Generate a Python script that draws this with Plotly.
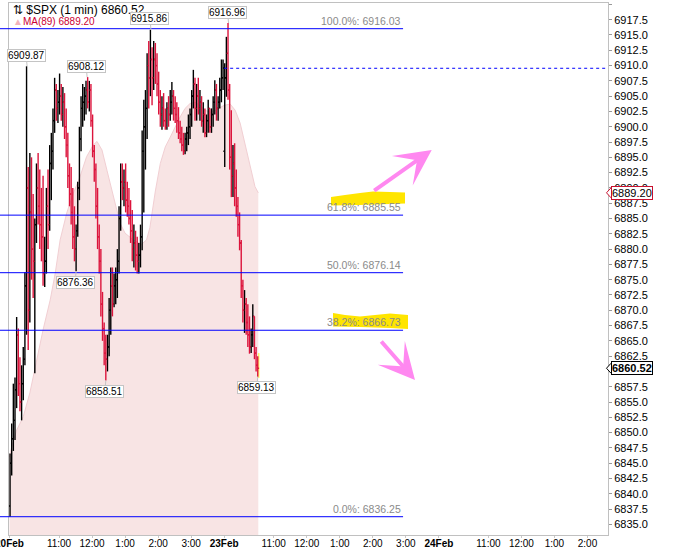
"""$SPX 1-min chart with Fibonacci retracement levels"""
import plotly.graph_objects as go

# ---- data ------------------------------------------------------------------
# minutes are counted on a session-only clock: 20Feb 9:30 = 0, 23Feb 9:30 = 390,
# 24Feb 9:30 = 780 (each session is 390 minutes long)
BAR_MINUTES = 3

FEB20_OPEN = 6838.0
FEB20_CLOSE = [
  6845, 6849, 6852, 6857, 6866, 6858, 6855, 6858, 6862, 6874,
  6890, 6870, 6886, 6880, 6878, 6884, 6890, 6887, 6884, 6882,
  6876, 6878, 6887, 6884, 6894, 6896, 6901, 6906, 6903, 6904,
  6905, 6902, 6904, 6900, 6897, 6892, 6889, 6886, 6882, 6880,
  6883, 6890, 6898, 6903, 6904, 6905, 6906, 6904, 6906, 6901,
  6896, 6893, 6887, 6882, 6878, 6871, 6867, 6863, 6862, 6864,
  6870, 6874, 6871, 6874, 6875, 6878, 6885, 6891, 6890, 6891,
  6888, 6887, 6885, 6883, 6880, 6881, 6879, 6878, 6879, 6882,
  6896, 6900, 6903, 6910, 6908, 6911, 6908, 6911, 6910, 6907,
  6904, 6902, 6903, 6901, 6900, 6903, 6902, 6904, 6905, 6903,
  6902, 6901, 6899, 6898, 6897, 6896, 6898, 6899, 6900, 6902,
  6905, 6907, 6903, 6905, 6903, 6904, 6901, 6902, 6899, 6901,
  6903, 6900, 6902, 6904, 6906, 6903, 6904, 6906, 6908, 6909.6,
]
FEB20_HIGH = [
  6846.6, 6851.5, 6858, 6859, 6868.9, 6867, 6862.3, 6861, 6864, 6876.2,
  6909.87, 6893.4, 6895.7, 6895, 6889, 6885, 6894, 6895.7, 6893, 6890,
  6892, 6882, 6890, 6893, 6897, 6899, 6903, 6908, 6907, 6906,
  6908.7, 6907, 6906.5, 6905.5, 6903, 6899, 6894, 6893.4, 6890, 6887,
  6884, 6891, 6900, 6905, 6907, 6906.5, 6907.5, 6908.12, 6907.5, 6907,
  6902, 6897, 6894, 6890, 6884, 6880, 6873, 6868, 6866, 6866,
  6872, 6877, 6877, 6876, 6877, 6880, 6887, 6894, 6894, 6893,
  6894, 6891, 6890, 6888, 6886.4, 6884, 6883, 6882, 6881, 6884,
  6899.4, 6904.4, 6906, 6912, 6914, 6915.86, 6913, 6914, 6913.7, 6912,
  6909, 6906, 6905, 6905.5, 6903, 6904, 6905, 6906, 6907.3, 6906,
  6905, 6904, 6903.2, 6901, 6900, 6899, 6899, 6900, 6902, 6903,
  6906, 6909.3, 6908, 6907, 6908, 6906, 6905, 6904, 6903, 6902,
  6904.4, 6903, 6903, 6905, 6907.6, 6907, 6905, 6908, 6911, 6911,
]
FEB20_LOW = [
  6836.25, 6843, 6847, 6848.8, 6854, 6856, 6853.5, 6852, 6855.3, 6861,
  6866, 6863.5, 6868, 6875, 6872, 6859.7, 6881, 6884, 6880, 6878,
  6874, 6873.8, 6876, 6880, 6883, 6888, 6893, 6899, 6901, 6900.6,
  6902, 6901, 6900, 6898, 6895, 6890, 6887, 6884, 6880, 6878,
  6876.36, 6882, 6888, 6896, 6900, 6901, 6902, 6903, 6902.5, 6900,
  6895, 6891, 6885, 6880, 6876, 6869, 6865, 6861, 6858.51, 6860,
  6862.5, 6866, 6869, 6870.5, 6871, 6872, 6876, 6883, 6888, 6887,
  6886, 6885.3, 6884, 6881, 6878, 6877, 6876.5, 6876, 6876, 6877,
  6879.8, 6886, 6893, 6898, 6903, 6905, 6903.5, 6906, 6907, 6905,
  6902, 6900, 6899.5, 6900, 6899.5, 6899.5, 6900, 6901, 6902, 6901,
  6900.6, 6899, 6898, 6897.3, 6896, 6895.4, 6895.5, 6896, 6897, 6898,
  6900, 6903, 6901, 6901, 6902, 6901, 6900, 6899, 6898.3, 6898.3,
  6899, 6899, 6899, 6900, 6902, 6901, 6901, 6903, 6904, 6906,
]

FEB23_OPEN = 6896.0
FEB23_CLOSE = [
  6908, 6912, 6906, 6895, 6892, 6894, 6890, 6887, 6884, 6881,
  6874, 6870, 6871, 6868, 6866, 6864, 6866, 6869, 6863, 6861, 6860.52,
]
FEB23_HIGH = [
  6910.4, 6914.7, 6916.96, 6907, 6902.7, 6897, 6897.3, 6893, 6888.5, 6886,
  6881.5, 6875, 6873.3, 6872, 6871, 6869, 6867, 6871, 6869, 6864, 6862.5,
]
FEB23_LOW = [
  6893.4, 6904.9, 6904.4, 6893, 6888.5, 6888.5, 6887, 6885.3, 6882, 6879.8,
  6872, 6868, 6866.3, 6866, 6864, 6862.9, 6863, 6864, 6862, 6860, 6859.13,
]

# MA(89) shaded area
MA_MINUTE = [
  0, 4, 13, 25, 37, 49, 61, 74, 83, 92, 104, 116, 128, 140, 152, 159, 168,
  177, 186, 195, 201, 210, 225, 240, 249, 255, 265, 274, 283, 292, 301, 310,
  319, 328, 337, 346, 355, 365, 374, 383, 390, 401, 410, 419, 428, 437, 446, 452,
]
MA_VALUE = [
  6846.0, 6847.7, 6850.4, 6852.6, 6856.5, 6861.8, 6866.8, 6871.7, 6876.0,
  6881.5, 6885.9, 6889.1, 6891.8, 6895.1, 6897.0, 6897.6, 6896.2, 6892.9,
  6889.6, 6886.4, 6884.2, 6882.6, 6881.5, 6880.8, 6881.5, 6883.5, 6889.5,
  6894.0, 6896.7, 6898.3, 6900.0, 6901.6, 6903.0, 6903.8, 6904.0, 6903.5,
  6902.7, 6902.4, 6902.7, 6903.2, 6903.5, 6903.7, 6902.7, 6900.6, 6897.3,
  6894.0, 6890.2, 6889.2,
]

FIB_PCT = [100.0, 61.8, 50.0, 38.2, 0.0]
FIB_LEVEL = [6916.03, 6885.55, 6876.14, 6866.73, 6836.25]
PREV_CLOSE = 6909.56
LAST_PRICE = 6860.52
LAST_MA = 6889.20

# marked highs / lows (minute, price, above?)
PIVOT_MINUTE = [32, 141, 257, 398, 121, 175, 451]
PIVOT_PRICE = [6909.87, 6908.12, 6915.86, 6916.96, 6876.36, 6858.51, 6859.13]
PIVOT_ABOVE = [True, True, True, True, False, False, False]

TICK_MINUTE = [0, 90, 150, 210, 270, 330, 390, 480, 540, 600, 660, 720,
               780, 870, 930, 990, 1050]
TICK_TEXT = ["20Feb", "11:00", "12:00", "1:00", "2:00", "3:00",
             "23Feb", "11:00", "12:00", "1:00", "2:00", "3:00",
             "24Feb", "11:00", "12:00", "1:00", "2:00"]

# ---- layout constants -------------------------------------------------------
W, H = 674, 549
M_L, M_R, M_T, M_B = 9, 66, 3, 14
PLOT_W = W - M_L - M_R
PLOT_H = H - M_T - M_B
X_RANGE = [-0.9, 1087.3]
Y_RANGE = [6833.26, 6920.23]
FIB_END_MINUTE = 715

UP_COLOR = "black"
DOWN_COLOR = "#dc143c"
FIB_COLOR = "blue"
MA_FILL = "#f8e4e4"
MA_EDGE = "#f1cfd3"
HILITE = "#ffe500"
ARROW_COLOR = "#ff88f0"
FONT = "Liberation Sans"


def px_to_minute(px):
  return X_RANGE[0] + (px - M_L) / PLOT_W * (X_RANGE[1] - X_RANGE[0])


def px_to_price(py):
  return Y_RANGE[1] - (py - M_T) / PLOT_H * (Y_RANGE[1] - Y_RANGE[0])


def minute_to_paper(m):
  return (m - X_RANGE[0]) / (X_RANGE[1] - X_RANGE[0])


def build_bars(day_start, first_open, closes, highs, lows):
  bars = []
  prev = first_open
  for i, (c, h, l) in enumerate(zip(closes, highs, lows)):
    x = day_start + BAR_MINUTES * i + 1
    bars.append(dict(x=x, o=prev, h=h, l=l, c=c))
    prev = c
  return bars


def bar_segments(bars, up):
  xs, ys = [], []
  tw = 2.5
  for b in bars:
    if (b["c"] >= b["o"]) != up:
      continue
    xs += [b["x"], b["x"], None, b["x"] - tw, b["x"], None, b["x"], b["x"] + tw, None]
    ys += [b["l"], b["h"], None, b["o"], b["o"], None, b["c"], b["c"], None]
  return xs, ys


def path_from_px(points):
  pts = [f"{px_to_minute(x):.2f},{px_to_price(y):.3f}" for x, y in points]
  return "M " + " L ".join(pts) + " Z"


def main():
  bars = build_bars(0, FEB20_OPEN, FEB20_CLOSE, FEB20_HIGH, FEB20_LOW)
  bars += build_bars(390, FEB23_OPEN, FEB23_CLOSE, FEB23_HIGH, FEB23_LOW)

  fig = go.Figure()
  fig.add_trace(go.Scatter(
    x=MA_MINUTE, y=MA_VALUE, mode="lines", fill="tozeroy",
    fillcolor=MA_FILL, line=dict(color=MA_EDGE, width=1), hoverinfo="skip",
  ))
  for up, color in ((True, UP_COLOR), (False, DOWN_COLOR)):
    xs, ys = bar_segments(bars, up)
    fig.add_trace(go.Scatter(
      x=xs, y=ys, mode="lines", line=dict(color=color, width=1.4),
      hoverinfo="skip",
    ))

  shapes = []
  # yellow marker behind the current bar
  last = bars[-1]
  shapes.append(dict(type="rect", xref="x", yref="y", layer="below",
                     x0=last["x"] - 2.5, x1=last["x"] + 3, y0=last["l"] - 0.2,
                     y1=last["h"] + 0.5, fillcolor="#ffff40", line_width=0))
  # hand-drawn highlighter strokes over two fib labels
  shapes.append(dict(type="path", xref="x", yref="y", layer="above",
                     fillcolor=HILITE, line_width=0,
                     path=path_from_px([(331, 197), (345, 195), (360, 193),
                                        (373, 191.5), (390, 192), (405, 192.5),
                                        (405, 203.5), (390, 204), (360, 205),
                                        (331, 205.5)])))
  shapes.append(dict(type="path", xref="x", yref="y", layer="above",
                     fillcolor=HILITE, line_width=0,
                     path=path_from_px([(333, 313), (345, 315), (360, 316.5),
                                        (375, 315), (390, 313.5), (408, 315),
                                        (408, 329), (390, 328), (360, 327),
                                        (333, 326.5)])))
  # fib lines run from the left edge of the page
  fib_x0 = -M_L / PLOT_W
  fib_x1 = minute_to_paper(FIB_END_MINUTE)
  for lvl in FIB_LEVEL:
    shapes.append(dict(type="line", xref="paper", yref="y", x0=fib_x0, x1=fib_x1,
                       y0=lvl, y1=lvl, line=dict(color=FIB_COLOR, width=1)))
  shapes.append(dict(type="line", xref="x", yref="y", x0=390, x1=X_RANGE[1],
                     y0=PREV_CLOSE, y1=PREV_CLOSE,
                     line=dict(color=FIB_COLOR, width=1, dash="3px,3px")))
  # small notches on the right-hand price boxes
  px_w = 1 / PLOT_W
  unit = (Y_RANGE[1] - Y_RANGE[0]) / PLOT_H
  for val, col in ((LAST_MA, "#c8102e"), (LAST_PRICE, "black")):
    shapes.append(dict(
      type="path", xref="paper", yref="y", fillcolor="white",
      line=dict(color=col, width=1),
      path=(f"M {1 + 3 * px_w},{val + 5 * unit} L {1 - 1.5 * px_w},{val} "
            f"L {1 + 3 * px_w},{val - 5 * unit}"),
    ))

  annotations = []
  # legend-like header (drawn first so the pivot boxes sit on top of it)
  annotations.append(dict(
    xref="paper", yref="paper", x=(11 - M_L) / PLOT_W, y=1 - (10 - M_T) / PLOT_H,
    xanchor="left", yanchor="middle", showarrow=False,
    text=f"⇅ $SPX (1 min) {LAST_PRICE:.2f}",
    font=dict(family=FONT, size=12, color="black"),
  ))
  annotations.append(dict(
    xref="paper", yref="paper", x=(11 - M_L) / PLOT_W, y=1 - (22 - M_T) / PLOT_H,
    xanchor="left", yanchor="middle", showarrow=False,
    text=f'<span style="color:#f3b3bb">▲</span>MA(89) {LAST_MA:.2f}',
    font=dict(family=FONT, size=10, color="#cc0033"),
  ))
  for pct, lvl in zip(FIB_PCT, FIB_LEVEL):
    annotations.append(dict(
      xref="paper", yref="y", x=fib_x1, y=lvl, xanchor="right", yanchor="bottom",
      text=f"{pct:.1f}%: {lvl:.2f}", showarrow=False,
      font=dict(family=FONT, size=10.5, color="#8a8a8a"),
    ))
  for m, p, above in zip(PIVOT_MINUTE, PIVOT_PRICE, PIVOT_ABOVE):
    annotations.append(dict(
      x=m, y=p, xref="x", yref="y", text=f"{p:.2f}", showarrow=True,
      ax=-1, ay=-11 if above else 11, arrowhead=0, arrowwidth=1,
      arrowcolor="#c4c4c4", standoff=0,
      bgcolor="white", bordercolor="#c4c4c4", borderwidth=1, borderpad=0,
      font=dict(family=FONT, size=10, color="black"),
    ))
  for val, txt, col in ((LAST_MA, f"{LAST_MA:.2f}", "#c8102e"),
                        (LAST_PRICE, f"<b>{LAST_PRICE:.2f}</b>", "black")):
    annotations.append(dict(
      xref="paper", yref="y", x=1, y=val, xanchor="left", xshift=2.5,
      text=txt, showarrow=False, bgcolor="white", bordercolor=col,
      borderwidth=1, borderpad=0, font=dict(family=FONT, size=11, color="black"),
    ))
  # pink arrows
  for tip, tail in (((431.7, 150), (372.7, 191.7)), ((415, 380), (380, 340))):
    annotations.append(dict(
      x=px_to_minute(tip[0]), y=px_to_price(tip[1]), xref="x", yref="y",
      ax=tail[0] - tip[0], ay=tail[1] - tip[1], text="", showarrow=True,
      arrowhead=3, arrowsize=1.5, arrowwidth=4, arrowcolor=ARROW_COLOR,
    ))

  tick_text = [f"<b>{t}</b>" if "Feb" in t else t for t in TICK_TEXT]

  fig.update_xaxes(
    range=X_RANGE, tickvals=TICK_MINUTE, ticktext=tick_text, ticklabeloverflow="allow",
    automargin=False, showgrid=False, zeroline=False, showline=True, mirror=True,
    linecolor="#c0c0c0", ticks="outside", ticklen=2, tickcolor="#c8c8c8",
    ticklabelstandoff=-3, tickfont=dict(family=FONT, size=10, color="black"),
  )
  fig.update_yaxes(
    range=Y_RANGE, side="right", dtick=2.5, tick0=6835, tickformat=".1f",
    automargin=False, showgrid=False, zeroline=False, showline=True, mirror=True,
    linecolor="#c0c0c0", ticks="outside", ticklen=3, tickcolor="#999999",
    tickfont=dict(family=FONT, size=11, color="black"),
  )
  fig.update_layout(
    width=W, height=H, margin=dict(l=M_L, r=M_R, t=M_T, b=M_B),
    paper_bgcolor="white", plot_bgcolor="white", showlegend=False,
    shapes=shapes, annotations=annotations, hovermode=False,
  )
  # the page's default body margin would push the figure 8px down and right
  fig.write_html("out.html", config={"displayModeBar": False},
                 post_script="document.body.style.margin='0';")


if __name__ == "__main__":
  main()
